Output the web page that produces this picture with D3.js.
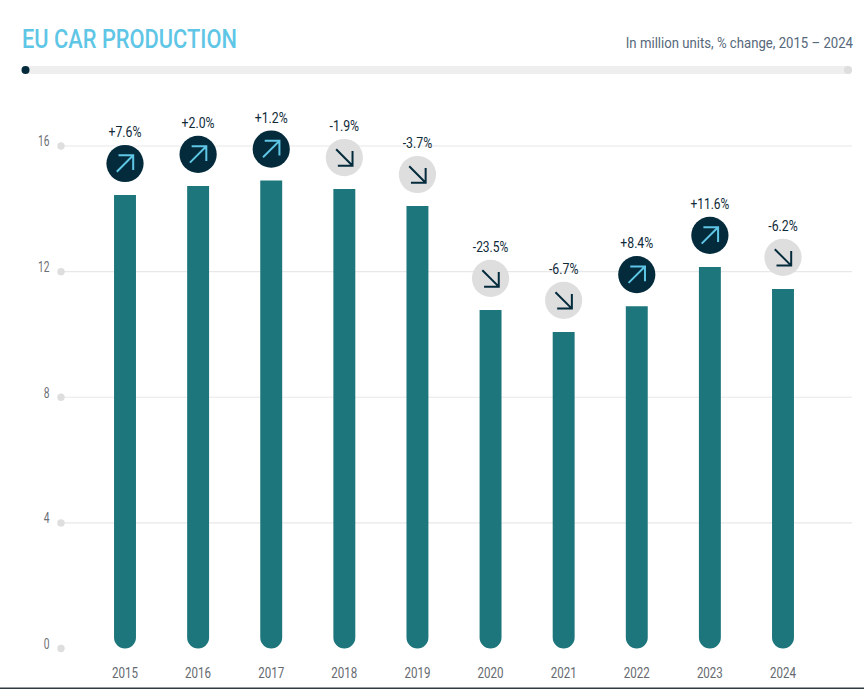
<!DOCTYPE html>
<html>
<head>
<meta charset="utf-8">
<script src="https://cdn.jsdelivr.net/npm/d3@7"></script>
<style>
  html, body { margin: 0; padding: 0; background: #fff; }
  svg { display: block; font-family: Roboto, sans-serif; }
</style>
</head>
<body>
<div id="chart"></div>
<script>
// values
const years = ["2015", "2016", "2017", "2018", "2019", "2020", "2021", "2022", "2023", "2024"];
const production = [14.44, 14.73, 14.9, 14.63, 14.09, 10.78, 10.08, 10.9, 12.15, 11.45];
const changes = ["+7.6%", "+2.0%", "+1.2%", "-1.9%", "-3.7%", "-23.5%", "-6.7%", "+8.4%", "+11.6%", "-6.2%"];
const yTicks = [0, 4, 8, 12, 16];

const width = 864, height = 689;
const dark = "#032b3c", blue = "#5fc6e6", teal = "#1d767b", grey = "#dedede";

const svg = d3.select("#chart").append("svg")
  .attr("width", width)
  .attr("height", height);

// condensed look: Roboto squeezed to the measured width
function label(x, y, str, size, w, color, anchor) {
  return svg.append("text")
    .attr("x", x)
    .attr("y", y)
    .attr("font-size", size)
    .attr("fill", color)
    .attr("text-anchor", anchor || "middle")
    .attr("textLength", w)
    .attr("lengthAdjust", "spacingAndGlyphs")
    .text(str);
}

//--------------------------------------------------------------------------
// header
label(22, 47.7, "EU CAR PRODUCTION", 26, 215, blue, "start").attr("font-weight", 500);

// subtitle is squeezed with a transform, it runs up to the right margin
const subtitle = svg.append("text")
  .attr("transform", "translate(853,48) scale(0.875,1)")
  .attr("font-size", 15)
  .attr("fill", "#56687a")
  .attr("text-anchor", "end")
  .text("In million units, % change, 2015 – 2024");
const subW = subtitle.node().getComputedTextLength();
subtitle.attr("transform", `translate(853,48) scale(${227 / subW},1)`);

svg.append("rect").attr("x", 22).attr("y", 66).attr("width", 830).attr("height", 8).attr("rx", 4).attr("fill", "#eeeeee");
svg.append("circle").attr("cx", 25.5).attr("cy", 70).attr("r", 4).attr("fill", dark);
svg.append("circle").attr("cx", 848).attr("cy", 70).attr("r", 4).attr("fill", grey);

//--------------------------------------------------------------------------
// scales
const y = d3.scaleLinear().domain([0, 16]).range([648.5, 146]);
const x = d3.scaleBand().domain(years).range([88.45, 819.55]).paddingInner(0.7).paddingOuter(0.35);
const barW = x.bandwidth();

// y axis
const gridG = svg.append("g");
yTicks.forEach(t => {
  if (t > 0) {
    gridG.append("line")
      .attr("x1", 61).attr("x2", 852)
      .attr("y1", y(t)).attr("y2", y(t))
      .attr("stroke", "#e8e8e8").attr("stroke-width", 1.2);
  }
  gridG.append("circle").attr("cx", 61).attr("cy", y(t)).attr("r", 3.7).attr("fill", grey);
  label(49.5, y(t) + 0.3, String(t), 14, t > 9 ? 11.5 : 5.8, "#6b6f76", "end");
});

// bars, flat on top and round at the bottom
const barPath = (d, i) => {
  const x0 = x(years[i]), x1 = x0 + barW, top = y(d), bottom = y(0), r = barW / 2;
  const p = d3.path();
  p.moveTo(x0, top);
  p.lineTo(x1, top);
  p.lineTo(x1, bottom - r);
  p.arc(x0 + r, bottom - r, r, 0, Math.PI);
  p.closePath();
  return p.toString();
};

svg.append("g").selectAll("path").data(production).enter().append("path")
  .attr("d", barPath)
  .attr("fill", teal);

// year labels
years.forEach(yr => label(x(yr) + barW / 2, 678, yr, 14, 26, "#666a70"));

//--------------------------------------------------------------------------
// change badges
const badges = svg.append("g").selectAll("g").data(production).enter().append("g")
  .attr("transform", (d, i) => `translate(${x(years[i]) + barW / 2},${y(d) - 31.5})`);

badges.append("circle")
  .attr("r", 18.6)
  .attr("fill", (d, i) => changes[i][0] === "+" ? dark : grey);

badges.append("path")
  .attr("d", (d, i) => changes[i][0] === "+"
    ? "M-8.2,8.2L8.2,-8.2M-6.5,-8.2H8.2V6.5"
    : "M-8.2,-8.2L8.2,8.2M8.2,-6.5V8.2H-6.5")
  .attr("fill", "none")
  .attr("stroke-width", 2)
  .attr("stroke", (d, i) => changes[i][0] === "+" ? blue : dark);

changes.forEach((c, i) => {
  const w = c.length * 5.9 + (c[0] === "+" ? 3.5 : 0);
  label(x(years[i]) + barW / 2, y(production[i]) - 58, c, 15, w, "#0f2a38");
});

// page edge
svg.append("rect").attr("x", 0).attr("y", 687.5).attr("width", width).attr("height", 1.5).attr("fill", "#2f3a40");
</script>
</body>
</html>
